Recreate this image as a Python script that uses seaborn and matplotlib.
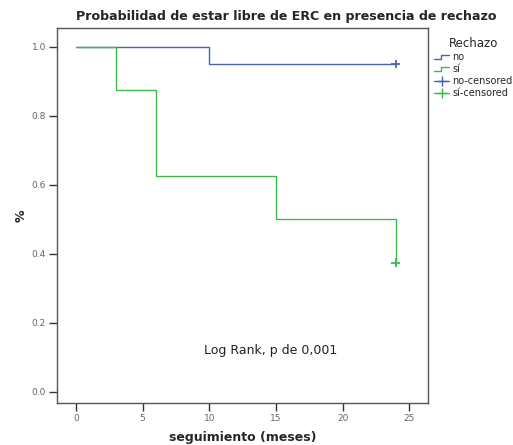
import matplotlib
matplotlib.use("Agg")
import matplotlib.pyplot as plt
import seaborn as sns
import pandas as pd
from matplotlib.lines import Line2D
from matplotlib.legend_handler import HandlerBase

# curvas Kaplan-Meier
no_tiempo = [0, 10, 24]
no_surv = [1.0, 0.95, 0.95]
si_tiempo = [0, 3, 6, 15, 24]
si_surv = [1.0, 0.875, 0.625, 0.5, 0.375]
# censurados
cens_grupo = ['no', 'sí']
cens_tiempo = [24, 24]
cens_surv = [0.95, 0.375]

x_ticks = [0, 5, 10, 15, 20, 25]
y_ticks = [0.0, 0.2, 0.4, 0.6, 0.8, 1.0]

colores = {'no': '#4a62b3', 'sí': '#3cba4a'}

df = pd.DataFrame({
    'tiempo': no_tiempo + si_tiempo,
    'surv': no_surv + si_surv,
    'Rechazo': ['no'] * len(no_tiempo) + ['sí'] * len(si_tiempo),
})
cens = pd.DataFrame({'tiempo': cens_tiempo, 'surv': cens_surv, 'Rechazo': cens_grupo})

sns.set_style('white')
plt.rcParams['font.family'] = ['DejaVu Sans']

fig = plt.figure(figsize=(5.13, 4.45), dpi=100)
ax = fig.add_axes([0.111, 0.0944, 0.723, 0.843])

sns.lineplot(data=df, x='tiempo', y='surv', hue='Rechazo', palette=colores,
             drawstyle='steps-post', estimator=None, linewidth=1.0, legend=False, ax=ax)
sns.scatterplot(data=cens, x='tiempo', y='surv', hue='Rechazo', palette=colores,
                marker='+', s=40, linewidth=1.3, legend=False, ax=ax)

ax.set_xlim(-1.43, 26.4)
ax.set_ylim(-0.032, 1.055)
ax.set_xticks(x_ticks)
ax.set_yticks(y_ticks)
ax.set_xticklabels([str(t) for t in x_ticks])
ax.set_yticklabels([f'{t:.1f}' for t in y_ticks])
ax.tick_params(axis='both', direction='out', length=6, width=1.0, color='#333333',
               labelsize=6.5, labelcolor='#666666', bottom=True, left=True, pad=2)
for sp in ax.spines.values():
    sp.set_color('#555555')
    sp.set_linewidth(1.0)

ax.set_xlabel('seguimiento (meses)', fontsize=9, fontweight='bold', labelpad=6)
ax.set_ylabel('%', fontsize=9, fontweight='bold', labelpad=3)
ax.set_title('Probabilidad de estar libre de ERC en presencia de rechazo',
             fontsize=9.1, fontweight='bold', pad=6, x=0.617)

ax.text(9.6, 0.12, 'Log Rank, p de 0,001', fontsize=9, color='#222222', va='center')


class StepHandler(HandlerBase):
    def create_artists(self, legend, orig, xd, yd, w, h, fontsize, trans):
        xs = [xd, xd + w * 0.45, xd + w * 0.45, xd + w]
        ys = [yd + h * 0.2, yd + h * 0.2, yd + h * 0.8, yd + h * 0.8]
        ln = Line2D(xs, ys, color=orig.get_color(), lw=1.0, transform=trans)
        return [ln]


h_no = Line2D([], [], color=colores['no'])
h_si = Line2D([], [], color=colores['sí'])
h_nc = Line2D([], [], color=colores['no'], marker='+', markersize=7, lw=1.0)
h_sc = Line2D([], [], color=colores['sí'], marker='+', markersize=7, lw=1.0)
leg = fig.legend([h_no, h_si, h_nc, h_sc], ['no', 'sí', 'no-censored', 'sí-censored'],
                 title='Rechazo', loc='upper left', bbox_to_anchor=(0.838, 0.925),
                 frameon=False, fontsize=7, title_fontsize=8.5, handlelength=1.6,
                 handletextpad=0.3, labelspacing=0.2, borderaxespad=0,
                 handler_map={h_no: StepHandler(), h_si: StepHandler()})

fig.savefig('out.png', dpi=100)
